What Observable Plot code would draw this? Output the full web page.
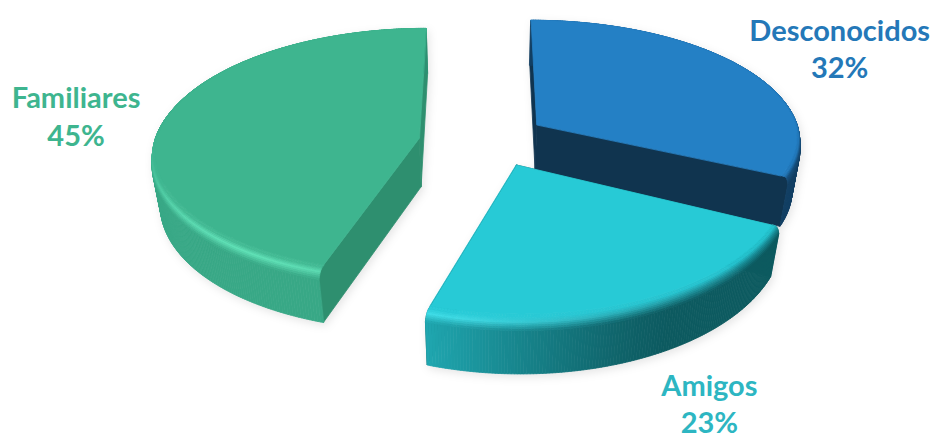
<!DOCTYPE html>
<html>
<head>
<meta charset="utf-8">
<style>html,body{margin:0;padding:0;background:#fff}svg{display:block}</style>
<script src="https://cdn.jsdelivr.net/npm/d3@7"></script>
<script src="https://cdn.jsdelivr.net/npm/@observablehq/plot@0.6"></script>
</head>
<body>
<div id="chart"></div>
<script>
// ---- data ----
const categories = ["Desconocidos", "Amigos", "Familiares"];
const shares = [32, 23, 45];

// ---- style and layout of each slice (same order as the data) ----
const explode = [[0.207, 0.19], [0.125, -0.14], [-0.238, 0.075]];
const depthStretch = [1, 1.08, 1.03];
const topColors = ["#2480C5", "#27CAD6", "#3EB58F"];
const cutColors = ["#10344F", "#0E5A60", "#2E8F6F"];
const sideLight = ["#1A5D94", "#1FA6AF", "#38A886"];
const sideDark = ["#123F63", "#0D5A60", "#2D9072"];
const glowColors = ["#2480C5", "#45E6F0", "#5FE0B6"];
const edgeColors = ["#17507E", "#1A8E98", "#2F9C7B"];
const textColors = ["#2478B8", "#2DB6C2", "#3EB58F"];
const labelShift = [[98, -18], [65, 94], [-87, -4]];
const drawOrder = [2, 0, 1];

// ---- perspective view of the tilted pie ----
const view = {cx: 482, cy: 147, rx: 268, ry: 123, k: 0.12, drop: 50, zk: 0.03};
const rad = d3.scaleLinear().domain([0, 100]).range([0, 2 * Math.PI]);
const starts = d3.cumsum([0, ...shares]);

function project(i, t, r, z) {
  const X = explode[i][0] + r * Math.sin(t);
  const Y = explode[i][1] + r * depthStretch[i] * Math.cos(t);
  const w = 1 + view.k * Y + view.zk * z;
  return [view.cx + view.rx * X / w, view.cy - view.ry * Y / w + view.drop * z / w];
}
const clamp = (v) => Math.max(0, Math.min(1, v));
const mix = (a, b, m) => d3.rgb(d3.interpolateRgb(a, b)(clamp(m))).formatHex();

const polys = [];
let pid = 0;
function poly(points, color) {
  const id = pid++;
  for (const [x, y] of points) polys.push({id, x, y, color});
}

const innerR = (t) => 1 - (0.012 + 0.04 * clamp(-Math.cos(t)));
const bevelDrop = 0.14;
const bevelSteps = d3.range(9).map((q) => q / 8);

for (const i of drawOrder) {
  const a0 = rad(starts[i]), a1 = rad(starts[i + 1]);
  const steps = Math.round(shares[i] * 6);
  const ts = d3.range(steps + 1).map((j) => a0 + (a1 - a0) * j / steps);
  const segments = d3.pairs(ts);
  const ring = (t, u) => project(i, t, innerR(t) + (1 - innerR(t)) * Math.sqrt(u), bevelDrop * u * u);

  // radial cut faces
  for (const t of [a0, a1]) {
    poly([project(i, t, 0, 0), ...bevelSteps.map((u) => ring(t, u)), project(i, t, 1, 1), project(i, t, 0, 1)], cutColors[i]);
  }
  const light = (t) => Math.max(0, Math.cos(t - rad(59.7)));
  const sideShade = (t) => Math.pow(clamp(Math.cos(t - rad(66.7)) / 0.74), 1.5);
  const sideOf = (t) => mix(sideDark[i], sideLight[i], sideShade(t));
  const glowOf = (t) => mix(edgeColors[i], glowColors[i], Math.pow(light(t), 2));

  // outer wall, one whole pass
  for (const [t0, t1] of segments) {
    poly([project(i, t0, 1, bevelDrop), project(i, t1, 1, bevelDrop), project(i, t1, 1, 1), project(i, t0, 1, 1)], sideOf((t0 + t1) / 2));
  }
  // rounded edge, one pass per band, outermost first
  for (let q = bevelSteps.length - 2; q >= 0; q--) {
    const u0 = bevelSteps[q], u1 = bevelSteps[q + 1], um = (u0 + u1) / 2;
    for (const [t0, t1] of segments) {
      const tm = (t0 + t1) / 2;
      const color = um < 0.45 ? mix(topColors[i], glowOf(tm), um / 0.45) : mix(glowOf(tm), sideOf(tm), (um - 0.45) / 0.55);
      poly([ring(t0, u0), ring(t1, u0), ring(t1, u1), ring(t0, u1)], color);
    }
  }
  // top face
  poly([project(i, 0, 0, 0), ...ts.map((t) => project(i, t, innerR(t), 0))], topColors[i]);
}

const labelMark = (i) => {
  const mid = rad(starts[i] + shares[i] / 2);
  const [x, y] = project(i, mid, 1, 0);
  return Plot.text([{x, y, text: `${categories[i]}\n${shares[i]}%`}], {
    x: "x", y: "y", text: "text",
    dx: labelShift[i][0], dy: labelShift[i][1],
    fill: textColors[i],
    fontSize: 29, fontWeight: 700, fontFamily: "Lato", lineHeight: 1.3
  });
};

const plot = Plot.plot({
  width: 951, height: 439,
  margin: 0,
  style: {background: "#fff"},
  x: {domain: [0, 951], range: [0, 951], axis: null},
  y: {domain: [0, 439], range: [0, 439], axis: null},
  color: {type: "identity"},
  marks: [
    Plot.line(polys, {
      x: "x", y: "y", z: "id", fill: "color", stroke: "color", strokeWidth: 0.8,
      curve: "linear-closed",
      imageFilter: "blur(0.7px) drop-shadow(2px 3px 4px rgba(0,0,0,0.10))"
    }),
    ...categories.map((_, i) => labelMark(i))
  ]
});
document.getElementById("chart").append(plot);
</script>
</body>
</html>
